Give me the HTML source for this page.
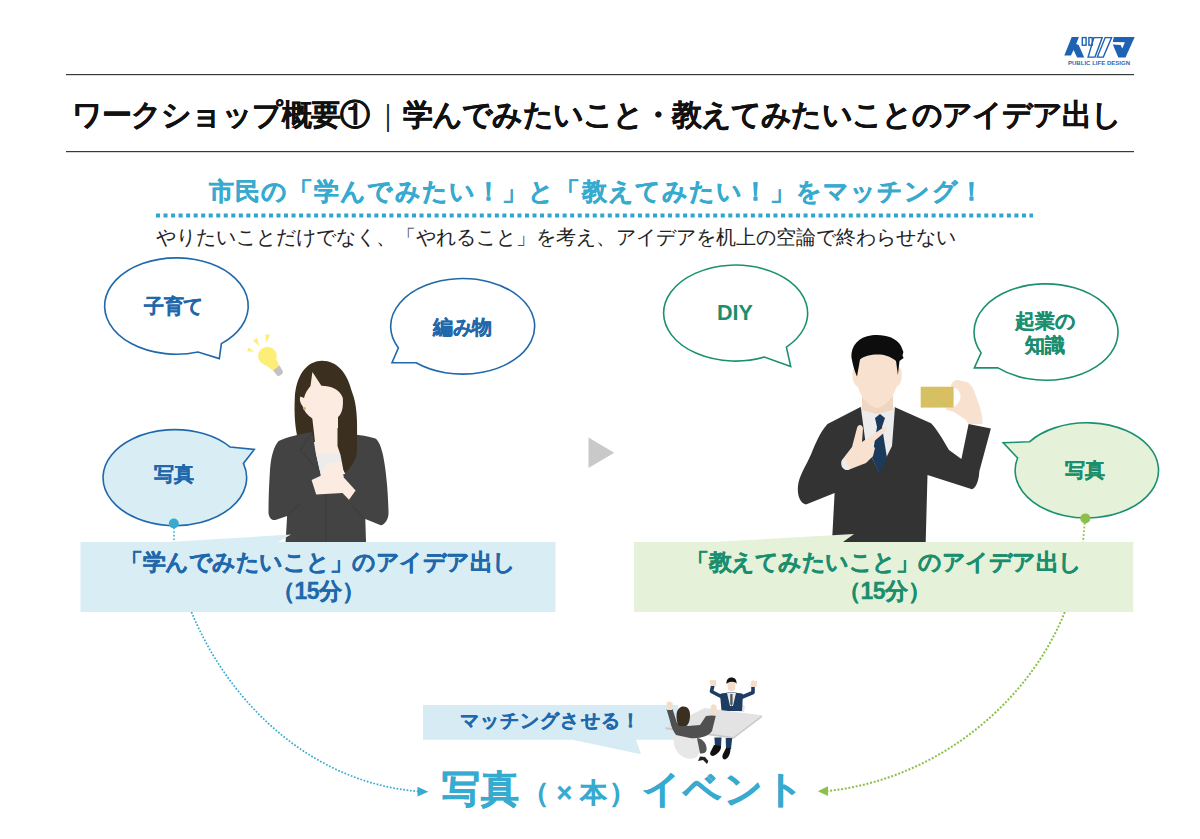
<!DOCTYPE html>
<html lang="ja">
<head>
<meta charset="utf-8">
<style>
html,body{margin:0;padding:0;background:#fff;}
body{width:1200px;height:839px;position:relative;overflow:hidden;font-family:"Liberation Sans",sans-serif;}
.t{position:absolute;white-space:nowrap;line-height:1;}
svg{position:absolute;left:0;top:0;}
</style>
</head>
<body>
<svg width="1200" height="839" viewBox="0 0 1200 839">
  <!-- header lines -->
  <rect x="66" y="74" width="1068" height="1.2" fill="#3a3a3a"/>
  <rect x="66" y="151" width="1068" height="1.2" fill="#3a3a3a"/>
  <!-- dotted teal line -->
  <line x1="156" y1="215.5" x2="1033" y2="215.5" stroke="#2ea7cb" stroke-width="4" stroke-dasharray="4 3.53"/>

  <!-- left bubbles -->
  <g fill="#fff" stroke="#1f68ab" stroke-width="1.6" stroke-linejoin="miter">
    <path d="M198,352 A71.8,48.2 0 1 1 221.4,343.6 L219.3,358.6 Z"/>
    <path d="M398.4,347.9 A72,47.8 0 1 1 416.1,362.8 L392,362.8 Z"/>
  </g>
  <path d="M243.4,463.4 A71.8,48 0 1 1 230.2,447.1 L254.3,449.4 Z" fill="#d9edf5" stroke="#1f68ab" stroke-width="1.6"/>
  <!-- right bubbles -->
  <g fill="#fff" stroke="#1b9070" stroke-width="1.6">
    <path d="M764.3,357.1 A72,48 0 1 1 786.4,347.1 L790.7,366.4 Z"/>
    <path d="M981.1,352.9 A72,48.2 0 1 1 997.9,367.9 L974.3,367.9 Z"/>
  </g>
  <path d="M1017.6,458 A71.7,47.6 0 1 0 1029.5,441.8 L1003.2,442.8 Z" fill="#e5f1d8" stroke="#1b9070" stroke-width="1.6"/>

  <!-- dotted connectors -->
  <line x1="174" y1="524" x2="174" y2="542" stroke="#36aacf" stroke-width="1.6" stroke-dasharray="1.6 2"/>
  <line x1="1085" y1="519" x2="1083" y2="542" stroke="#8cc04a" stroke-width="1.8" stroke-dasharray="1.8 2"/>
  <circle cx="173.8" cy="523.5" r="5" fill="#36aacf"/>
  <circle cx="1085.3" cy="518.4" r="5" fill="#8cc04a"/>

  <!-- gray play triangle -->
  <path d="M588.5,437.5 L614.2,452.7 L588.5,468 Z" fill="#c9c9c9"/>

  <!-- curves -->
  <path d="M191.5,612 C226.9,698.7 307.2,781.9 418,791.4" fill="none" stroke="#36aacf" stroke-width="1.7" stroke-dasharray="1.7 1.7"/>
  <path d="M417.5,786.8 L428.3,791.8 L417.5,796.6 Z" fill="#36aacf"/>
  <path d="M1064.8,612 C1028.9,701.5 939,778.8 828,791" fill="none" stroke="#8cc04a" stroke-width="2" stroke-dasharray="2 1.7"/>
  <path d="M828,786.3 L817.9,791.3 L828,796 Z" fill="#8cc04a"/>


  <!-- logo -->
  <g fill="#1d62b3">
    <path d="M1064.3,55.5 L1071.7,37 L1078.9,37 L1076.2,44.1 L1078.7,45.1 L1084.2,57.5 L1077.1,57.5 L1073.6,50.1 L1070.9,55.5 Z"/>
    <path d="M1113.8,37 L1134.7,37 L1125.5,57.6 L1118.3,57.6 L1113,44.9 L1112.8,42 Z"/>
    <path d="M1112.6,41.9 L1124.9,42.3 L1122.3,48.4 L1120.6,44.9 L1112.6,44.6 Z" fill="#fff"/>
  </g>
  <g fill="none" stroke="#1d62b3" stroke-width="1.4">
    <rect x="1082.3" y="37.6" width="3.8" height="7.6"/>
    <rect x="1088.9" y="37.6" width="3.3" height="7.6"/>
    <path d="M1093.9,37.6 L1102.2,37.6 L1095,57.1 L1088.1,57.1 Z"/>
    <path d="M1105.2,37.6 L1111.6,37.6 L1103.3,57.1 L1097.3,57.1 Z"/>
  </g>

  <!-- bulb -->
  <g fill="#fdee78">
    <path d="M265.2,334.6 L270,334.6 L266.4,342.8 Z"/>
    <path d="M253,340.6 L257.2,337.9 L259.4,346.2 Z"/>
    <path d="M247.1,351.6 L248.4,347.2 L254.2,351.6 Z"/>
    <circle cx="267.4" cy="356" r="9.3"/>
    <path d="M260.5,361 L272.5,351 L279.5,366 L273.5,371 Z"/>
  </g>
  <path d="M273,370.5 L279.5,365.5 L283,371.5 C283,374 280,376 277.5,376 Z" fill="#c2c2c2"/>

  <!-- woman -->
  <g>
    <path d="M322,360.7 C306,361 296,376 294.8,398 C294,414 295,428 298.5,442 L357,442 C357.5,420 357,404 352,392 C347,372 337,361 322,360.7 Z" fill="#3b2f1f"/>
    <path d="M312.3,432.1 C300,434 288,437 278.6,440.9 C274,446 271,456 270,470 C269,485 268.5,500 268.5,512.9 C269,518 272,520.5 275.5,519.9 L287.1,516 L285.6,542 L366,542 L365.3,519 L380.8,525.3 C385,524.5 389,519 388.5,511.4 C388,490 386,470 383,455 C381,447 379,441 375.4,438.6 C368,436 360,435 353,434.7 L345,474 L320.8,474.8 L316,454 Z" fill="#434343"/>
    <path d="M316,453.5 L340.5,453.5 L342.5,462 L328,464 L320.8,474.8 Z" fill="#ececec"/>
    <path d="M312.4,372 L321.4,385.7 C331,386.5 339,388 342.8,397.7 C343.5,407 342,414 338,417 L338,446 L341,454 L316,454 C315,440 313.5,428 312.3,418.4 C307,415 304,411 302.5,406 C299.5,402 299.5,398 300.5,396.5 L304,398 C305,393 308,389 310.5,386 Z" fill="#fbebe0"/>
    <path d="M328,463 L341.1,461 L343.8,477.4 L355.6,490.5 L349,499.7 L342.5,493.1 L316.2,494.4 L311.6,480 L320.2,476 Z" fill="#fbebe0"/>
    <path d="M337.5,428 L337.5,446 L340.5,455 L343.3,470 L345,473.4 C351,467 357,460 357,450 L357,428 Z" fill="#3b2f1f"/>
    <circle cx="304.5" cy="408.5" r="1.4" fill="#d9b24a"/>
    <path d="M287,516 L300,504 M365,519 L352,506 M326,494 L326,542 M312,433 L300,450 L318,470" stroke="#333" stroke-width="0.6" fill="none"/>
  </g>
  <!-- man -->
  <g>
    <path d="M860.5,407 L827.5,424.1 C820,432 815,445 811.4,453.6 C806,466 799,476 798,485.7 C797,495 800,503 806,504.5 L834.6,492.9 L832,542 L925.7,542 L927.5,475 L972,489.3 C976,488 979,480 979.3,471.4 L990.9,428.6 L968.6,424.1 L961.4,459 L949,450 C942,438 936,428 931,423.2 L894.5,407 Z" fill="#333333"/>
    <path d="M860.7,406.4 L895,406.4 L892,446 L879,472 L866,446 Z" fill="#ececec"/>
    <path d="M875,418 L880,414 L885,418 L882,427 L887,458 L879.3,473.5 L872,458 L877,427 Z" fill="#1b3a5c"/>
    <path d="M862,396 L893,396 L893,410 L877,414 L862,410 Z" fill="#eed6c1"/>
    <path d="M858,366 C858,352 868,350 878,350 C889,350 898,353 898,366 L901,369 C903,377 901,385 896.5,387 C893,398 886,406 877,407.9 C868,406 861,398 858,387 C853.5,385 851,377 853,369 Z" fill="#f8e2cf"/>
    <path d="M851.4,357 C851,346 858,337 872,335.2 C884,334 896,337 901,346 L903.4,352 L902.5,355.5 L903.6,358 L899.5,361 L897.9,375 L896,361 C890,356 884,354.5 878,354.5 C870,354.5 864,356 860,359.5 L857,376.4 C855,372 853,366 851.4,357 Z" fill="#0d0d0d"/>
    <path d="M842,460 L852,447 L857,428 C858,424 862,424 863,428 L862,442 L884,427 C887,426 888,429 886,431 L871,444 L875,448 L873,456 L866,463 L848,470 C844,470 841,466 842,460 Z" fill="#f8e2cf"/>
    <path d="M842,460 C840,464 842,469 846,470 L850,469 L845,459 Z" fill="#ececec"/>
    <path d="M950.9,386 C952,381 956,379.5 958.4,380 L968.4,382.5 C971,385 973,388 974.2,391 L980,407.5 C981.5,413 982.6,418 982.6,424 L968.4,424 L966,420 L953.4,411.7 L946,409.8 L946.4,407.3 L953.8,407.3 C958,404 961,400 960.5,396 C960,391 956.5,388 953.8,387.5 Z" fill="#f8e2cf"/>
    <rect x="920.7" y="386.7" width="32.9" height="20.9" fill="#d8bf62"/>
    <path d="M921.5,390 L946.5,406.7" stroke="#a9c97a" stroke-width="0.9" stroke-dasharray="1 0.6"/>
  </g>

  <!-- lower boxes -->
  <path d="M80.5,542 L168,542 L291,534.6 L278,542 L555.5,542 L555.5,612 L80.5,612 Z" fill="#d9edf5"/>
  <path d="M634,542 L712.8,542 L854,534.1 L843,542 L1133.2,542 L1133.2,612 L634,612 Z" fill="#e5f1d8"/>

  <path d="M423,705 L678,705 L678,739.7 L636,739.7 L641,754.2 L572.5,739.7 L423,739.7 Z" fill="#d6ebf4"/>
  <!-- meeting illustration -->
  <g>
    <path d="M739,707 L742,704 L745,706 L744,712 L739,712 Z" fill="#e4e4e4"/>
    <path d="M720,694 C726,692 737,692 743,694 L742,711 L721.5,711 Z" fill="#1d3d63"/>
    <path d="M723,697.5 L711.5,691.5 L713,684.5 M741,697.5 L753,692.5 L753,685" fill="none" stroke="#1d3d63" stroke-width="3.6" stroke-linejoin="round" stroke-linecap="round"/>
    <path d="M710.5,686 L709.5,681 L711,679.5 L714,680.5 L716,679.5 L716.5,686 Z" fill="#f3dcc8"/>
    <path d="M750.5,687 L751,681.5 L753,680 L755,681.5 L757,680.5 L756.5,687 Z" fill="#f3dcc8"/>
    <path d="M727,693 L736,693 L733,706 L730,706 Z" fill="#e8e8e8"/>
    <path d="M730.3,694 L732.5,694 L732.6,704 L731.4,706 L730.2,704 Z" fill="#555"/>
    <path d="M727.5,684 C727.5,680 735.5,680 735.5,684 L735,689 C734,692 729,692 728,689 Z" fill="#f3dcc8"/>
    <path d="M726.5,684 C726,679 729,677.5 731.5,677.5 C734.5,677.5 737,679.5 736.5,684 L735.5,682.5 C733,681.5 730,681.5 727.5,683 Z" fill="#111"/>
    <path d="M704.8,708.1 L762,715.3 L733.4,736.7 L665.5,727.2 Z" fill="#e3e3e3"/>
    <path d="M665.5,727.2 L733.4,736.7 L762,715.3 L762,717.3 L733.6,738.8 L665.5,729.2 Z" fill="#c9c9c9"/>
    <path d="M714.4,737.5 L721.5,737.5 L721,747 L715,747 Z" fill="#1d3d63"/>
    <path d="M725.7,738 L732.2,738 L731,749 L726,749 Z" fill="#1d3d63"/>
    <path d="M714,745 L721,746 C721.5,750 718,754 713,756 C710,756 709.5,753 711,751 Z" fill="#111"/>
    <path d="M726,748 L730.5,748 C730.5,753 729,758 725,759.5 C722,759.5 722,756 723,754 Z" fill="#111"/>
    <path d="M674,734.5 C672,746 677,757 689,758.8 C696,759 699,756 699,752 L698.5,734.5 Z" fill="#e7e7e7"/>
    <path d="M697,738 C704,739 707,745 706.6,750 C706,753 703,754 700,753.4 Z" fill="#555"/>
    <path d="M700,756.5 L705,757 L708.4,761 L707,764 L703,760 L698,761 Z" fill="#222"/>
    <path d="M666.5,709 L672.5,709 L677,723 L688,726 L700,725 L706,716 L716,715 L712,731 C709,736 700,739 690,738 L676,735 C673,731 671,726 670,721 Z" fill="#505050"/>
    <path d="M676.5,716 C676.5,709 680,706.5 683.5,706.5 C687.5,706.5 690,709.5 690,715 C690,720 689,724 686,726 L679,726 C677,723 676.5,720 676.5,716 Z" fill="#3b2f1f"/>
    <path d="M666.7,702 L670,701.5 L672.6,703 L672.3,710 L667,710 Z" fill="#f3dcc8"/>
    <path d="M710.8,706 L713,704 L716.7,706 L716,716 L711,715 Z" fill="#f3dcc8"/>
  </g>
</svg>

<div class="t" style="left:72px;top:100px;font-size:30px;font-weight:bold;color:#111;letter-spacing:-0.9px;-webkit-text-stroke:0.25px #111">ワークショップ概要①<span style="font-weight:normal;-webkit-text-stroke:0;font-size:28px;padding:0 3px 0 5px">｜</span>学んでみたいこと・教えてみたいことのアイデア出し</div>
<div class="t" style="left:208.5px;top:178.5px;font-size:25px;font-weight:bold;color:#36aacf;letter-spacing:1.15px;-webkit-text-stroke:0.3px #36aacf">市民の「学んでみたい！」と「教えてみたい！」をマッチング！</div>
<div class="t" style="left:156px;top:226.5px;font-size:20px;color:#222">やりたいことだけでなく、「やれること」を考え、アイデアを机上の空論で終わらせない</div>

<div class="t" style="left:144px;top:296px;font-size:20px;font-weight:bold;color:#1f68ab;letter-spacing:-0.4px;-webkit-text-stroke:0.3px #1f68ab">子育て</div>
<div class="t" style="left:433px;top:316.5px;font-size:20px;font-weight:bold;color:#1f68ab;letter-spacing:-0.4px;-webkit-text-stroke:0.3px #1f68ab">編み物</div>
<div class="t" style="left:154px;top:464px;font-size:20px;font-weight:bold;color:#1f68ab;letter-spacing:-0.4px;-webkit-text-stroke:0.3px #1f68ab">写真</div>
<div class="t" style="left:717px;top:303px;font-size:21.5px;font-weight:bold;color:#1b8e6e">DIY</div>
<div class="t" style="left:1004px;top:310px;width:82px;text-align:center;font-size:19.5px;font-weight:bold;color:#1b8e6e;line-height:23.6px;white-space:normal;letter-spacing:-0.2px;-webkit-text-stroke:0.3px #1b8e6e">起業の<br>知識</div>
<div class="t" style="left:1065px;top:460px;font-size:20px;font-weight:bold;color:#1b8e6e;letter-spacing:-0.4px;-webkit-text-stroke:0.3px #1b8e6e">写真</div>

<div class="t" style="left:80px;top:548px;width:476px;text-align:center;font-size:23px;font-weight:bold;color:#1f68ab;line-height:28.5px;white-space:normal;letter-spacing:-0.5px;-webkit-text-stroke:0.3px #1f68ab">「学んでみたいこと」のアイデア出し<br>（15分）</div>
<div class="t" style="left:634px;top:548px;width:500px;text-align:center;font-size:23px;font-weight:bold;color:#1b8e6e;line-height:28.5px;white-space:normal;letter-spacing:-0.5px;-webkit-text-stroke:0.3px #1b8e6e">「教えてみたいこと」のアイデア出し<br>（15分）</div>

<div class="t" style="left:460px;top:711px;font-size:19px;font-weight:bold;color:#1f68ab;letter-spacing:1.1px;-webkit-text-stroke:0.3px #1f68ab">マッチングさせる！</div>

<div class="t" style="left:442px;top:770px;font-size:38px;font-weight:bold;color:#36aacf;letter-spacing:0.5px;-webkit-text-stroke:0.6px #36aacf">写真<span style="font-size:27px;letter-spacing:2.5px;margin-left:3px;-webkit-text-stroke:0.3px #36aacf">（<span style="padding:0 5px">×</span>本）</span><span style="letter-spacing:2px;margin-left:3px">イベント</span></div>

<div class="t" style="left:1068px;top:60px;font-size:6px;font-weight:bold;color:#2a69b3;letter-spacing:0.02px">PUBLIC LIFE DESIGN</div>
</body>
</html>
